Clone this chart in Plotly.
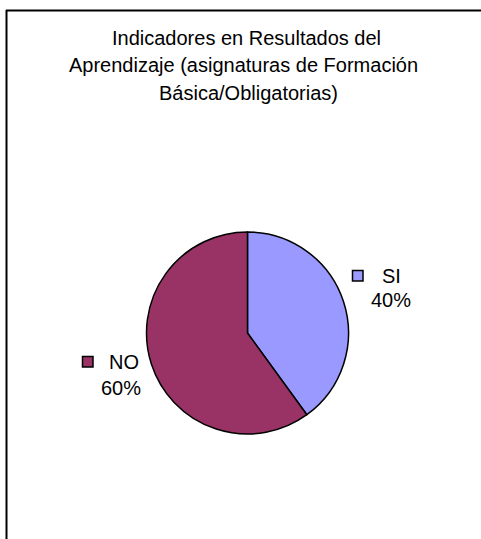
import plotly.graph_objects as go

# ---- data ----
labels = ["SI", "NO"]
values = [40, 60]
colors = ["#9999FF", "#993366"]
title_lines = [
    "Indicadores en Resultados del",
    "Aprendizaje (asignaturas de Formación",
    "Básica/Obligatorias)",
]

W, H = 481, 539
FONT = "Liberation Sans, Arial, sans-serif"


def px(x):
    return x / W


def py(y):
    return 1 - y / H


total = sum(values)
pcts = [round(v * 100 / total) for v in values]

fig = go.Figure(
    go.Pie(
        labels=labels,
        values=values,
        sort=False,
        direction="clockwise",
        rotation=0,
        marker=dict(colors=colors, line=dict(color="black", width=1.5)),
        textinfo="none",
        hoverinfo="label+percent",
        showlegend=False,
        domain=dict(x=[px(146), px(349)], y=[py(434), py(232)]),
    )
)

annotations = []
# title lines
title_pos = [(246.5, 38), (243.5, 65.5), (248, 93)]
for line, (x, y) in zip(title_lines, title_pos):
    annotations.append(dict(
        text=line, x=px(x), y=py(y), xref="paper", yref="paper",
        xanchor="center", yanchor="middle", showarrow=False,
        font=dict(family=FONT, size=20, color="black"),
    ))

# slice labels (name line + percent line) with legend keys
label_layout = {
    "SI": dict(name=(391, 276), pct=(390.7, 300), key=(352.5, 270.5, 363, 281)),
    "NO": dict(name=(123.5, 361.5), pct=(121.3, 387.5), key=(82.5, 356.5, 93, 367)),
}
shapes = []
for lab, p, col in zip(labels, pcts, colors):
    lay = label_layout[lab]
    annotations.append(dict(
        text=lab, x=px(lay["name"][0]), y=py(lay["name"][1]), xref="paper", yref="paper",
        xanchor="center", yanchor="middle", showarrow=False,
        font=dict(family=FONT, size=20, color="black"),
    ))
    annotations.append(dict(
        text=f"{p}%", x=px(lay["pct"][0]), y=py(lay["pct"][1]), xref="paper", yref="paper",
        xanchor="center", yanchor="middle", showarrow=False,
        font=dict(family=FONT, size=20, color="black"),
    ))
    x0, y0, x1, y1 = lay["key"]
    shapes.append(dict(
        type="rect", xref="paper", yref="paper",
        x0=px(x0), x1=px(x1), y0=py(y1), y1=py(y0),
        fillcolor=col, line=dict(color="black", width=1.5),
    ))

# chart area border (top and left visible)
shapes.append(dict(type="line", xref="paper", yref="paper",
                   x0=px(6), x1=px(490), y0=py(10.5), y1=py(10.5),
                   line=dict(color="black", width=2)))
shapes.append(dict(type="line", xref="paper", yref="paper",
                   x0=px(6.5), x1=px(6.5), y0=py(10), y1=py(560),
                   line=dict(color="black", width=2)))

fig.update_layout(
    width=W, height=H,
    margin=dict(l=0, r=0, t=0, b=0),
    paper_bgcolor="white",
    plot_bgcolor="white",
    annotations=annotations,
    shapes=shapes,
    font=dict(family=FONT),
)

fig.write_html(
    "out.html",
    config={"displayModeBar": False},
    post_script="document.body.style.margin='0';document.body.style.overflow='hidden';",
)
